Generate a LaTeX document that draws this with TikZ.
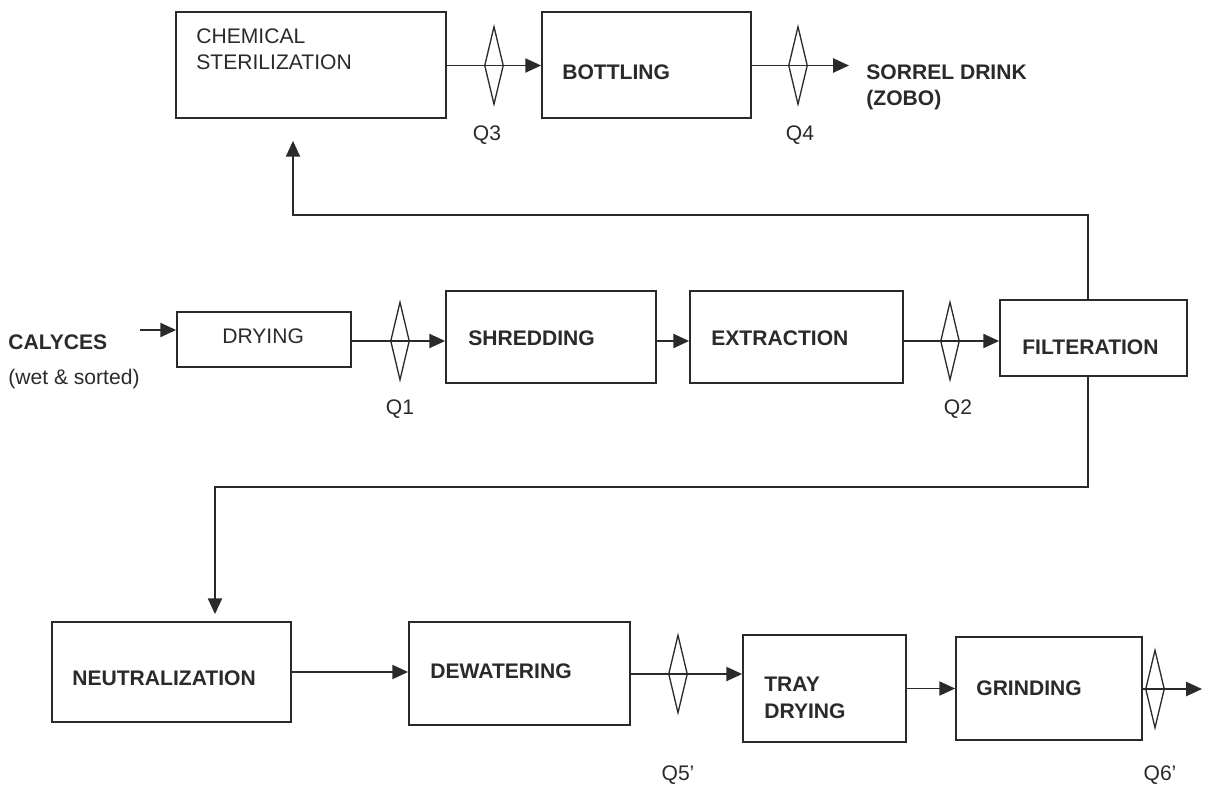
\documentclass[tikz,border=0pt]{standalone}
\usepackage{fontspec}
\setmainfont{Liberation Sans}
\usepackage{tikz}
\usetikzlibrary{shapes.geometric,arrows.meta,positioning}
\definecolor{ink}{HTML}{2A2A2A}

\begin{document}
\begin{tikzpicture}[
  x=0.02cm, y=-0.02cm,
  every node/.style={inner sep=0pt, text=ink, font=\fontsize{12}{15}\selectfont},
  stage/.style={draw=ink, line width=1pt},
  lbl/.style={anchor=west, align=left},
  valve/.style={diamond, draw=ink, line width=0.75pt,
                minimum width=0.38cm, minimum height=1.56cm},
  arr/.style={-{Triangle[length=9pt,width=8pt]}, line width=1.1pt, draw=ink}
]
\useasboundingbox (0,0) rectangle (1208,791);

% Process stages
\node[stage, minimum width=5.4cm, minimum height=2.12cm] (chem) at (311,65) {};
\node[stage, minimum width=4.18cm, minimum height=2.12cm] (bottle) at (646.5,65) {};
\node[stage, minimum width=3.48cm, minimum height=1.1cm] (dry) at (264,339.5) {};
\node[stage, minimum width=4.2cm, minimum height=1.84cm] (shred) at (551,337) {};
\node[stage, minimum width=4.26cm, minimum height=1.84cm] (extr) at (796.5,337) {};
\node[stage, minimum width=3.74cm, minimum height=1.52cm] (filt) at (1093.5,338) {};
\node[stage, minimum width=4.78cm, minimum height=2cm] (neut) at (171.5,672) {};
\node[stage, minimum width=4.42cm, minimum height=2.06cm] (dewat) at (519.5,673.5) {};
\node[stage, minimum width=3.26cm, minimum height=2.14cm] (tray) at (824.5,688.5) {};
\node[stage, minimum width=3.72cm, minimum height=2.06cm] (grind) at (1049,688.5) {};

% Stage texts
\node[lbl, anchor=north west] (chemtxt) at (196,28) {CHEMICAL\\STERILIZATION};
\node[lbl] (bottletxt) at (562,72) {\bfseries BOTTLING};
\node[lbl, anchor=north west] (drink) at (866,64) {\bfseries SORREL DRINK\\\bfseries (ZOBO)};
\node[lbl, anchor=north west] (calyces) at (8,334) {\bfseries CALYCES\\[5pt](wet \& sorted)};
\node[lbl] (drytxt) at (222,336) {DRYING};
\node[lbl] (shredtxt) at (468,338) {\bfseries SHREDDING};
\node[lbl] (extrtxt) at (711,338) {\bfseries EXTRACTION};
\node[lbl] (filttxt) at (1022,347) {\bfseries FILTERATION};
\node[lbl] (neuttxt) at (72,678) {\bfseries NEUTRALIZATION};
\node[lbl] (dewattxt) at (430,671) {\bfseries DEWATERING};
\node[lbl, anchor=north west] (traytxt) at (764,677) {\bfseries TRAY\\\bfseries DRYING};
\node[lbl] (grindtxt) at (976,688) {\bfseries GRINDING};

% Quality check points
\node[valve] (q1) at (400,341) {};
\node[valve] (q2) at (950,341) {};
\node[valve] (q3) at (494,65.5) {};
\node[valve] (q4) at (798,65.5) {};
\node[valve] (q5) at (678,674) {};
\node[valve] (q6) at (1155,689) {};
\node (q1txt) at (400,409) {Q1};
\node (q2txt) at (958,409) {Q2};
\node (q3txt) at (487,135) {Q3};
\node (q4txt) at (800,135) {Q4};
\node (q5txt) at (678,775) {Q5'};
\node (q6txt) at (1160,775) {Q6'};

% Free ends
\coordinate (feed) at (140,330);
\coordinate (prod) at (849,65.5);
\coordinate (exit) at (1202,689);

% Arrows
\draw[arr] (chem.east |- q3) -- (bottle.west |- q3);
\draw[arr] (bottle.east |- q4) -- (prod);
\draw[arr] (feed) -- (feed -| dry.west);
\draw[arr] (dry.east |- q1) -- (shred.west |- q1);
\draw[arr] (shred.east |- q1) -- (extr.west |- q1);
\draw[arr] (extr.east |- q2) -- (filt.west |- q2);
\draw[arr] ([xshift=-0.11cm]filt.north) -- ++(0,-84) -| ([xshift=-0.36cm,yshift=-0.44cm]chem.south);
\draw[arr] ([xshift=-0.11cm]filt.south) -- ++(0,110) -| ([xshift=0.87cm,yshift=0.14cm]neut.north);
\draw[arr] (neut.east) -- (neut.east -| dewat.west);
\draw[arr] (dewat.east |- q5) -- (tray.west |- q5);
\draw[arr] (tray.east |- grind) -- (grind.west);
\draw[arr] (grind.east |- q6) -- (exit);
\end{tikzpicture}
\end{document}
